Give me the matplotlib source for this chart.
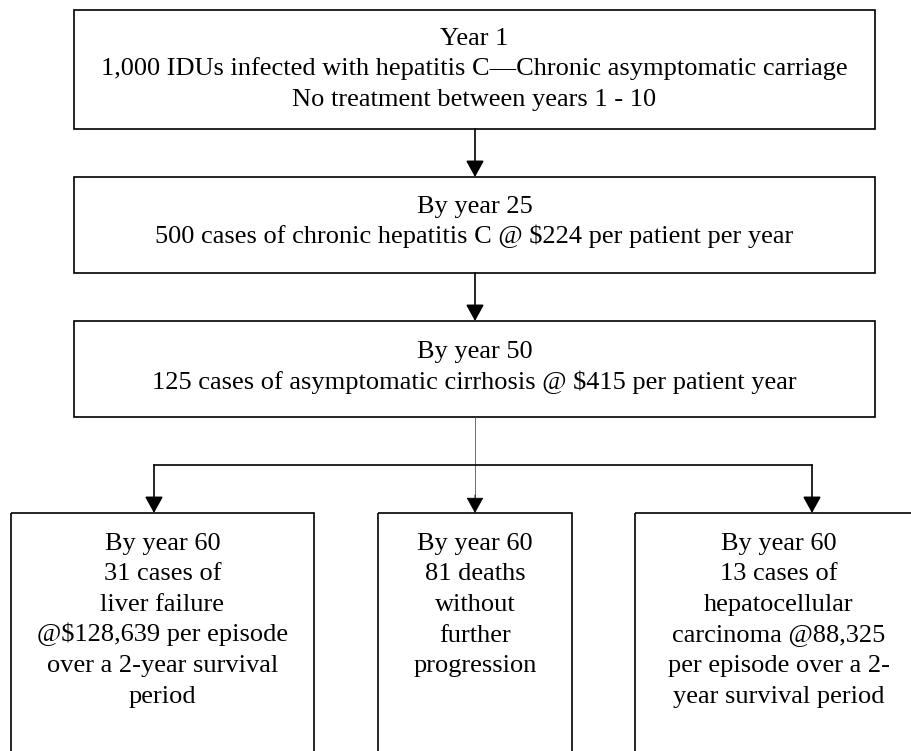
import matplotlib.pyplot as plt
from matplotlib.patches import Rectangle

# box texts, top to bottom
top_texts = [
    "Year 1\n1,000 IDUs infected with hepatitis C\u2014Chronic asymptomatic carriage\nNo treatment between years 1 - 10",
    "By year 25\n500 cases of chronic hepatitis C @ $224 per patient per year",
    "By year 50\n125 cases of asymptomatic cirrhosis @ $415 per patient year",
]
bottom_texts = [
    "By year 60\n31 cases of\nliver failure\n@$128,639 per episode\nover a 2-year survival\nperiod",
    "By year 60\n81 deaths\nwithout\nfurther\nprogression",
    "By year 60\n13 cases of\nhepatocellular\ncarcinoma @88,325\nper episode over a 2-\nyear survival period",
]

W, H = 912, 751
plt.rcParams['font.family'] = ['Liberation Serif', 'DejaVu Serif']

fig = plt.figure(figsize=(W / 100, H / 100), dpi=100)
ax = fig.add_axes([0, 0, 1, 1])
ax.set_xlim(0, W)
ax.set_ylim(H, 0)
ax.axis('off')

FS = 19
LW = 1.2
STEP = 30.5  # px between text lines


def put_lines(x, y_first, txt):
    for i, line in enumerate(txt.split('\n')):
        ax.text(x, y_first + i * STEP, line, ha='center', va='baseline', fontsize=FS)


# boxes: (x0, x1, y0, y1), first baseline
top_boxes = [(74, 875, 10, 129), (74, 875, 177, 273), (74, 875, 321, 417)]
top_first = [45, 213, 358]
bottom_boxes = [(11, 314, 513, 770), (378, 572, 513, 770), (635, 923, 513, 770)]

for (x0, x1, y0, y1), yf, txt in zip(top_boxes, top_first, top_texts):
    ax.add_patch(Rectangle((x0, y0), x1 - x0, y1 - y0, fill=False, lw=LW, ec='black'))
    put_lines((x0 + x1) / 2, yf, txt)

for (x0, x1, y0, y1), txt in zip(bottom_boxes, bottom_texts):
    ax.add_patch(Rectangle((x0, y0), x1 - x0, y1 - y0, fill=False, lw=LW, ec='black'))
    put_lines((x0 + x1) / 2, 550, txt)

arrow = dict(arrowstyle='-|>,head_length=0.4,head_width=0.22', color='black',
             lw=LW, shrinkA=0, shrinkB=0, mutation_scale=25)
cx = 475
ax.annotate('', xy=(cx, 177), xytext=(cx, 129), arrowprops=arrow)
ax.annotate('', xy=(cx, 321), xytext=(cx, 273), arrowprops=arrow)

# thin connector out of the cirrhosis box
ax.plot([cx, cx], [417, 505], color='#555555', lw=0.6)
ax.annotate('', xy=(cx, 513), xytext=(cx, 495), arrowprops=dict(arrow, lw=0.6))

# branch line
ax.plot([154, 812], [465, 465], color='black', lw=LW)
ax.annotate('', xy=(154, 513), xytext=(154, 465), arrowprops=arrow)
ax.annotate('', xy=(812, 513), xytext=(812, 465), arrowprops=arrow)

fig.savefig('out.png', dpi=100)
